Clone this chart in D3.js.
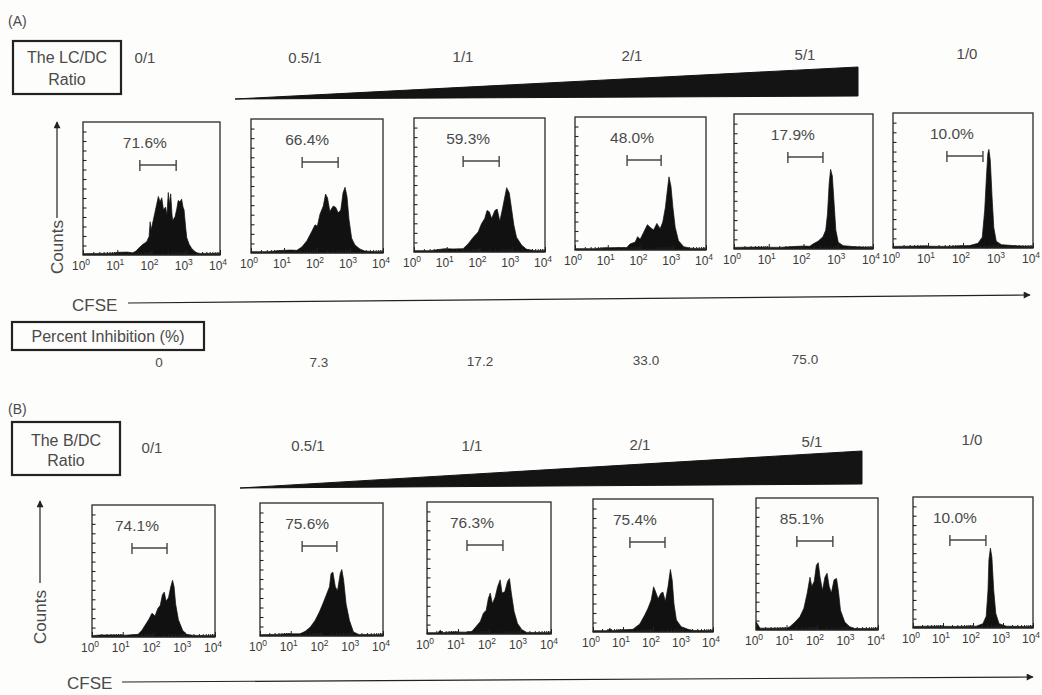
<!DOCTYPE html>
<html>
<head>
<meta charset="utf-8">
<script src="https://cdn.jsdelivr.net/npm/d3@7"></script>
<style>
  body { margin: 0; background: #fdfdfb; }
  svg { display: block; font-family: "Liberation Sans", Arial, sans-serif; }
  .lbl { fill: #4a4a4a; }
</style>
</head>
<body>
<div class="display"></div>
<script>
// ---- data ----
const ratioLabels = ['0/1', '0.5/1', '1/1', '2/1', '5/1', '1/0'];
const gatePercentA = ['71.6%', '66.4%', '59.3%', '48.0%', '17.9%', '10.0%'];
const gatePercentB = ['74.1%', '75.6%', '76.3%', '75.4%', '85.1%', '10.0%'];
const inhibition = ['0', '7.3', '17.2', '33.0', '75.0'];
const decades = [0, 1, 2, 3, 4];

// gate limits, log10 CFSE
const gateA = [[1.66, 2.72], [1.55, 2.64], [1.50, 2.60], [1.59, 2.63], [1.55, 2.56], [1.54, 2.57]];
const gateB = [[1.30, 2.44], [1.37, 2.50], [1.29, 2.45], [1.23, 2.40], [1.34, 2.52], [1.23, 2.43]];

// histograms: [log10 CFSE, counts as % of full scale]
const histA1 = [[0, 1], [0.5, 1.2], [0.9, 1.4], [1.0, 2], [1.3, 2.2], [1.45, 1.6], [1.55, 3], [1.62, 5], [1.75, 8], [1.86, 10],
  [1.93, 14], [1.96, 25], [1.99, 19], [2.05, 26], [2.10, 32], [2.15, 38], [2.20, 44], [2.25, 40], [2.30, 43], [2.35, 34],
  [2.41, 36], [2.45, 30], [2.49, 47], [2.52, 38], [2.56, 46], [2.60, 30], [2.62, 26], [2.69, 29], [2.74, 35], [2.78, 41],
  [2.83, 40], [2.88, 42], [2.92, 36], [2.95, 34], [3.0, 20], [3.03, 13], [3.1, 8], [3.17, 5], [3.25, 3], [3.32, 1.6],
  [3.42, 1.2], [3.7, 1.2], [4, 1]];
const histA2 = [[0, 1], [0.5, 1], [0.98, 2], [1.2, 2.2], [1.39, 2], [1.54, 4.5], [1.69, 9], [1.84, 16], [1.94, 21], [2.01, 20],
  [2.09, 29], [2.19, 35], [2.26, 44], [2.32, 41], [2.39, 31], [2.49, 35], [2.57, 34], [2.64, 30], [2.72, 32], [2.79, 45],
  [2.85, 49], [2.91, 42], [2.97, 25], [3.05, 11], [3.15, 6], [3.30, 3], [3.45, 1.4], [3.8, 1], [4, 1]];
const histA3 = [[0, 1], [0.5, 1], [0.94, 2.5], [1.2, 2.3], [1.5, 2.5], [1.65, 6], [1.81, 11], [1.96, 15], [2.06, 21], [2.16, 25],
  [2.23, 31], [2.30, 30], [2.37, 25], [2.47, 31], [2.54, 32], [2.62, 23], [2.70, 32], [2.78, 42], [2.83, 48], [2.91, 44],
  [2.98, 32], [3.05, 20], [3.13, 11], [3.29, 5], [3.44, 2], [3.7, 1], [4, 1]];
const histA4 = [[0, 1], [0.6, 1], [0.97, 1.6], [1.3, 1.8], [1.58, 1.8], [1.68, 4.5], [1.84, 6], [1.91, 10], [1.99, 8], [2.09, 13],
  [2.21, 19], [2.30, 17], [2.40, 15], [2.50, 20], [2.60, 16], [2.68, 21], [2.76, 32], [2.83, 47], [2.87, 55], [2.93, 48],
  [2.99, 32], [3.06, 17], [3.16, 7], [3.32, 2.5], [3.52, 1.4], [3.8, 1], [4, 1]];
const histA5 = [[0, 1.2], [0.7, 1.4], [1.3, 1.2], [1.70, 1.8], [2.0, 2.2], [2.18, 2], [2.28, 3.8], [2.42, 5.8], [2.56, 9], [2.64, 14],
  [2.69, 26], [2.74, 49], [2.78, 59], [2.83, 54], [2.88, 34], [2.93, 14], [3.0, 5], [3.14, 2.5], [3.43, 1.8], [3.7, 1.4], [4, 1.2]];
const histA6 = [[0, 1.2], [0.8, 1.4], [1.5, 1.2], [2.19, 1.8], [2.43, 3.5], [2.55, 8], [2.62, 28], [2.67, 53], [2.71, 70], [2.74, 73],
  [2.78, 65], [2.83, 38], [2.88, 15], [2.95, 5], [3.1, 2.5], [3.43, 1.8], [3.7, 1.4], [4, 1.2]];

const histB1 = [[0, 1], [0.25, 1.5], [0.7, 1.6], [1.1, 1.4], [1.5, 2], [1.62, 5], [1.73, 9], [1.84, 13], [1.95, 18], [2.05, 16],
  [2.14, 21.5], [2.22, 24], [2.29, 32], [2.35, 34], [2.41, 27], [2.49, 30], [2.56, 38], [2.62, 43], [2.67, 38], [2.72, 25],
  [2.81, 13], [2.95, 5], [3.08, 2], [3.30, 1.2], [4, 1]];
const histB2 = [[0, 1], [0.54, 1.2], [0.87, 1.6], [1.30, 1.6], [1.47, 3.5], [1.63, 6.5], [1.79, 11.6], [1.93, 18], [2.04, 24], [2.15, 30.5],
  [2.26, 37], [2.31, 47], [2.37, 48], [2.45, 37], [2.52, 34], [2.61, 47], [2.66, 50], [2.72, 42], [2.80, 24], [2.91, 11.6],
  [3.04, 3], [3.21, 1.2], [4, 1]];
const histB3 = [[0, 1], [0.35, 1], [0.43, 2.8], [0.5, 1], [0.8, 1.6], [1.23, 1.4], [1.45, 2], [1.59, 5.8], [1.72, 9.5], [1.82, 15.8],
  [1.91, 18], [1.98, 27], [2.04, 31], [2.11, 23], [2.20, 28], [2.28, 36], [2.36, 41], [2.42, 31], [2.51, 32], [2.60, 40],
  [2.66, 42], [2.72, 31], [2.81, 17], [2.92, 8], [3.06, 3.3], [3.22, 1.2], [4, 1]];
const histB4 = [[0, 1], [0.5, 1], [0.56, 2.8], [0.62, 1], [1.0, 1.6], [1.33, 2], [1.44, 4], [1.56, 6], [1.72, 12.6], [1.83, 17.6],
  [1.94, 24], [2.02, 34], [2.09, 30], [2.17, 25], [2.26, 29], [2.33, 30], [2.41, 23], [2.50, 34], [2.58, 47], [2.64, 39],
  [2.70, 21], [2.78, 9], [2.94, 4], [3.17, 2], [3.33, 1.2], [4, 1]];
const histB5 = [[0, 6], [0.04, 5], [0.13, 1.4], [0.46, 1.4], [1.0, 1.4], [1.11, 2.5], [1.28, 6], [1.44, 10], [1.57, 16.5], [1.68, 28],
  [1.77, 40], [1.83, 33], [1.91, 37], [1.98, 49], [2.04, 51], [2.10, 40], [2.18, 30], [2.26, 40], [2.33, 43], [2.40, 33],
  [2.47, 28], [2.56, 38], [2.64, 39], [2.70, 30], [2.77, 15], [2.91, 6], [3.07, 2.5], [3.24, 1.2], [4, 1]];
const histB6 = [[0, 1.2], [0.7, 1.4], [1.4, 1.2], [2.11, 1.4], [2.33, 3.3], [2.44, 9], [2.50, 29], [2.53, 52], [2.58, 61], [2.63, 54],
  [2.69, 29], [2.76, 11], [2.87, 3.3], [3.11, 1.4], [3.6, 1.2], [4, 1]];

const histsA = [histA1, histA2, histA3, histA4, histA5, histA6];
const histsB = [histB1, histB2, histB3, histB4, histB5, histB6];

// ---- layout ----
const layout = {
  A: {
    tag: { x: 8, y: 26, text: '(A)' },
    ratioBox: { x: 13, y: 41, w: 108, h: 53, lines: ['The LC/DC', 'Ratio'], ly: [63, 85] },
    ratioPos: [[145, 63], [305, 63], [463, 62], [632, 61], [805, 60], [967, 59]],
    wedge: [[235, 99], [858, 67], [858, 96]],
    boxes: [
      { x: 83, y: 122, w: 137, h: 133 }, { x: 251, y: 119, w: 132, h: 134 }, { x: 414, y: 118, w: 131, h: 134 },
      { x: 575, y: 117, w: 131, h: 133 }, { x: 734, y: 114, w: 139, h: 135 }, { x: 893, y: 113, w: 140, h: 135 }
    ],
    counts: { x: 57, cy: 247, arrowTop: 122, arrowBottom: 218 },
    cfse: { x: 72, y: 311, line: [[128, 303], [1030, 295]] }
  },
  B: {
    tag: { x: 8, y: 414, text: '(B)' },
    ratioBox: { x: 12, y: 422, w: 108, h: 53, lines: ['The B/DC', 'Ratio'], ly: [446, 466] },
    ratioPos: [[152, 453], [308, 451], [472, 451], [640, 450], [812, 447], [972, 445]],
    wedge: [[240, 488], [862, 451], [862, 484]],
    boxes: [
      { x: 92, y: 505, w: 123, h: 132 }, { x: 260, y: 503, w: 123, h: 133 }, { x: 427, y: 502, w: 124, h: 132 },
      { x: 593, y: 499, w: 120, h: 133 }, { x: 756, y: 498, w: 122, h: 132 }, { x: 913, y: 497, w: 120, h: 131 }
    ],
    counts: { x: 40, cy: 617, arrowTop: 501, arrowBottom: 583 },
    cfse: { x: 67, y: 689, line: [[122, 682], [1033, 677]] }
  }
};
const inhibitionBox = { x: 12, y: 322, w: 192, h: 28 };
const inhibitionPos = [[159, 367], [319, 367], [480, 366], [646, 365], [805, 364]];

const svg = d3.select('.display').append('svg')
  .attr('width', 1042).attr('height', 695);

svg.append('defs').append('marker')
  .attr('id', 'arrow')
  .attr('viewBox', '0 0 10 10')
  .attr('refX', 9).attr('refY', 5)
  .attr('markerWidth', 9).attr('markerHeight', 7)
  .attr('markerUnits', 'userSpaceOnUse')
  .attr('orient', 'auto')
  .append('path')
  .attr('d', 'M0,0 L10,5 L0,10 Z')
  .attr('fill', '#222');

function drawHistogram(box, data, gate, pct) {
  const g = svg.append('g');
  const x = d3.scaleLog().domain([1, 1e4]).range([box.x, box.x + box.w]);
  const y = d3.scaleLinear().domain([0, 100]).range([box.y + box.h, box.y]);

  g.append('path')
    .datum(data)
    .attr('fill', '#111')
    .attr('stroke', '#111')
    .attr('stroke-width', 0.7)
    .attr('d', d3.area()
      .x(d => x(Math.pow(10, d[0])))
      .y0(y(0))
      .y1(d => y(d[1])));

  g.append('rect')
    .attr('x', box.x).attr('y', box.y)
    .attr('width', box.w).attr('height', box.h)
    .attr('fill', 'none')
    .attr('stroke', '#2a2a2a')
    .attr('stroke-width', 1.3);

  // log minor ticks along the bottom, inside
  const minor = [];
  for (let d = 0; d < 4; d++) for (let k = 2; k < 10; k++) minor.push(k * Math.pow(10, d));
  g.append('g')
    .attr('transform', `translate(0, ${box.y + box.h})`)
    .call(d3.axisBottom(x).tickValues(minor).tickSize(-3).tickFormat(''))
    .call(a => a.select('.domain').remove())
    .selectAll('line').attr('stroke', '#222');
  g.append('g')
    .attr('transform', `translate(0, ${box.y + box.h})`)
    .call(d3.axisBottom(x).tickValues(decades.map(d => Math.pow(10, d))).tickSize(-5).tickFormat(''))
    .call(a => a.select('.domain').remove())
    .selectAll('line').attr('stroke', '#222');

  // ticks along the left side, inside
  g.append('g')
    .attr('transform', `translate(${box.x}, 0)`)
    .call(d3.axisRight(y).tickValues(d3.range(100 / 14, 100, 100 / 14)).tickSize(3.5).tickFormat(''))
    .call(a => a.select('.domain').remove())
    .selectAll('line').attr('stroke', '#222').attr('stroke-width', 1.1);

  // decade labels 10^n
  const lab = g.selectAll('.dec').data(decades).enter()
    .append('text')
    .attr('class', 'dec')
    .attr('fill', '#3a3a3a')
    .attr('x', d => x(Math.pow(10, d)) - 2)
    .attr('y', box.y + box.h + 15)
    .attr('text-anchor', 'middle')
    .style('font-size', '12px');
  lab.append('tspan').text('10');
  lab.append('tspan').attr('dy', -5).style('font-size', '8.5px').text(d => d);

  // gate marker
  const gy = box.y + 43;
  const gx0 = x(Math.pow(10, gate[0])), gx1 = x(Math.pow(10, gate[1]));
  const gp = g.append('g').attr('stroke', '#444').attr('stroke-width', 1.4);
  gp.append('line').attr('x1', gx0).attr('x2', gx1).attr('y1', gy).attr('y2', gy);
  gp.append('line').attr('x1', gx0).attr('x2', gx0).attr('y1', gy - 5).attr('y2', gy + 6);
  gp.append('line').attr('x1', gx1).attr('x2', gx1).attr('y1', gy - 5).attr('y2', gy + 6);

  g.append('text')
    .attr('class', 'lbl')
    .attr('x', gx0 - 17)
    .attr('y', box.y + 26)
    .style('font-size', '15.5px')
    .text(pct);
}

function drawPanel(p, hists, gates, pcts) {
  svg.append('text').attr('class', 'lbl')
    .attr('x', p.tag.x).attr('y', p.tag.y)
    .style('font-size', '14px').text(p.tag.text);

  const rb = p.ratioBox;
  svg.append('rect')
    .attr('x', rb.x).attr('y', rb.y).attr('width', rb.w).attr('height', rb.h)
    .attr('fill', 'none').attr('stroke', '#222').attr('stroke-width', 2.2);
  rb.lines.forEach((t, i) => {
    svg.append('text').attr('class', 'lbl')
      .attr('x', rb.x + rb.w / 2).attr('y', rb.ly[i])
      .attr('text-anchor', 'middle')
      .style('font-size', '16px').text(t);
  });

  svg.selectAll(null).data(ratioLabels).enter()
    .append('text').attr('class', 'lbl')
    .attr('x', (d, i) => p.ratioPos[i][0])
    .attr('y', (d, i) => p.ratioPos[i][1])
    .attr('text-anchor', 'middle')
    .style('font-size', '15px')
    .text(d => d);

  svg.append('path')
    .attr('d', d3.line()(p.wedge) + 'Z')
    .attr('fill', '#141414')
    .attr('stroke', '#141414')
    .attr('stroke-width', 1);

  hists.forEach((h, i) => drawHistogram(p.boxes[i], h, gates[i], pcts[i]));

  // Counts axis label with arrow
  svg.append('line')
    .attr('x1', p.counts.x).attr('x2', p.counts.x)
    .attr('y1', p.counts.arrowBottom).attr('y2', p.counts.arrowTop)
    .attr('stroke', '#222').attr('stroke-width', 1.2)
    .attr('marker-end', 'url(#arrow)');
  svg.append('text').attr('class', 'lbl')
    .attr('transform', `translate(${p.counts.x + 6}, ${p.counts.cy}) rotate(-90)`)
    .attr('text-anchor', 'middle')
    .style('font-size', '17px')
    .text('Counts');

  // CFSE axis label with arrow
  svg.append('text').attr('class', 'lbl')
    .attr('x', p.cfse.x).attr('y', p.cfse.y)
    .style('font-size', '17px')
    .text('CFSE');
  svg.append('line')
    .attr('x1', p.cfse.line[0][0]).attr('y1', p.cfse.line[0][1])
    .attr('x2', p.cfse.line[1][0]).attr('y2', p.cfse.line[1][1])
    .attr('stroke', '#222').attr('stroke-width', 1.2)
    .attr('marker-end', 'url(#arrow)');
}

drawPanel(layout.A, histsA, gateA, gatePercentA);
drawPanel(layout.B, histsB, gateB, gatePercentB);

// percent inhibition row
svg.append('rect')
  .attr('x', inhibitionBox.x).attr('y', inhibitionBox.y)
  .attr('width', inhibitionBox.w).attr('height', inhibitionBox.h)
  .attr('fill', 'none').attr('stroke', '#222').attr('stroke-width', 2.2);
svg.append('text').attr('class', 'lbl')
  .attr('x', inhibitionBox.x + inhibitionBox.w / 2)
  .attr('y', inhibitionBox.y + 20)
  .attr('text-anchor', 'middle')
  .style('font-size', '16px')
  .text('Percent Inhibition (%)');
svg.selectAll(null).data(inhibition).enter()
  .append('text').attr('class', 'lbl')
  .attr('x', (d, i) => inhibitionPos[i][0])
  .attr('y', (d, i) => inhibitionPos[i][1])
  .attr('text-anchor', 'middle')
  .style('font-size', '13.5px')
  .text(d => d);
</script>
</body>
</html>
